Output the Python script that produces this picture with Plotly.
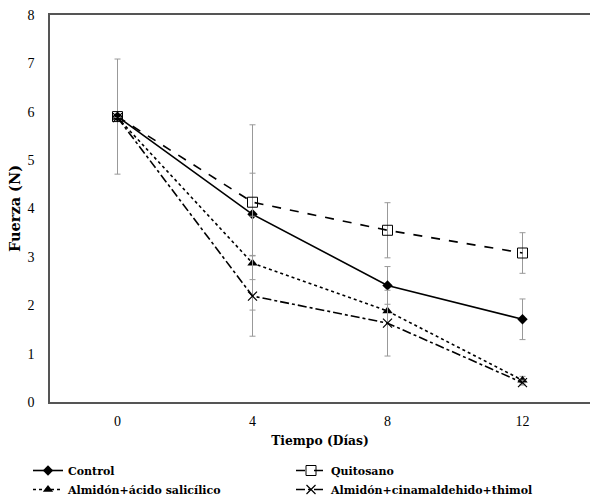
import plotly.graph_objects as go

dias = [0, 4, 8, 12]
control = [5.90, 3.88, 2.41, 1.71]
control_err = [1.19, 0.85, 0.39, 0.42]
quitosano = [5.90, 4.13, 3.55, 3.08]
quitosano_err = [0.0, 1.60, 0.57, 0.42]
alm_sal = [5.88, 2.87, 1.88, 0.45]
alm_sal_err = [0.0, 0.97, 0.0, 0.08]
alm_cin = [5.88, 2.19, 1.63, 0.40]
alm_cin_err = [0.0, 0.83, 0.68, 0.05]

series = [
    ("Control", control, control_err, "solid", dict(symbol="diamond", size=8, color="black")),
    ("Quitosano", quitosano, quitosano_err, "dash", dict(symbol="square-open", size=10, color="black", line=dict(width=1))),
    ("Almidón+ácido salicílico", alm_sal, alm_sal_err, "dot", dict(symbol="triangle-up", size=9, color="black")),
    ("Almidón+cinamaldehido+thimol", alm_cin, alm_cin_err, "dashdot", dict(symbol="x-thin", size=9, color="black", line=dict(width=1.2, color="black"))),
]

fig = go.Figure()
for name, y, err, dash, marker in series:
    fig.add_trace(go.Scatter(
        x=dias, y=y, name=name, mode="lines+markers",
        line=dict(color="black", width=1.6, dash=dash),
        marker=marker,
        error_y=dict(type="data", array=err, visible=True, color="#999999", thickness=1, width=3),
    ))

font = "Times New Roman, Liberation Serif, DejaVu Serif, serif"
bold = "DejaVu Serif"
fig.update_layout(
    width=592, height=498,
    margin=dict(l=50, r=2, t=15, b=96),
    plot_bgcolor="white", paper_bgcolor="white",
    font=dict(family=font, size=14, color="black"),
    showlegend=True,
    legend=dict(
        orientation="h", x=28 / 592, y=1 - 456 / 498, xanchor="left", yanchor="top",
        xref="container", yref="container",
        entrywidth=218, entrywidthmode="pixels",
        font=dict(family=bold, size=11, color="black", weight="bold"),
        tracegroupgap=0, itemwidth=30,
    ),
    xaxis=dict(
        range=[-2, 14], tickvals=dias, ticks="", showgrid=False, zeroline=False,
        showline=True, mirror=True, linecolor="#555555", linewidth=1.5,
        title=dict(text="Tiempo (Días)", font=dict(size=12.3, family=bold, weight="bold"), standoff=9),
        tickfont=dict(size=14), automargin=False, ticklabelstandoff=5,
    ),
    yaxis=dict(
        range=[0, 8], dtick=1, ticks="", showgrid=False, zeroline=False,
        showline=True, linecolor="#555555", linewidth=1.5,
        title=dict(text="Fuerza (N)", font=dict(size=14.5, family=bold, weight="bold"), standoff=3),
        tickfont=dict(size=14), automargin=False, ticklabelstandoff=11,
    ),
)
fig.write_html("out.html", config={"displayModeBar": False},
               post_script="document.body.style.margin='0';document.body.style.padding='0';")
